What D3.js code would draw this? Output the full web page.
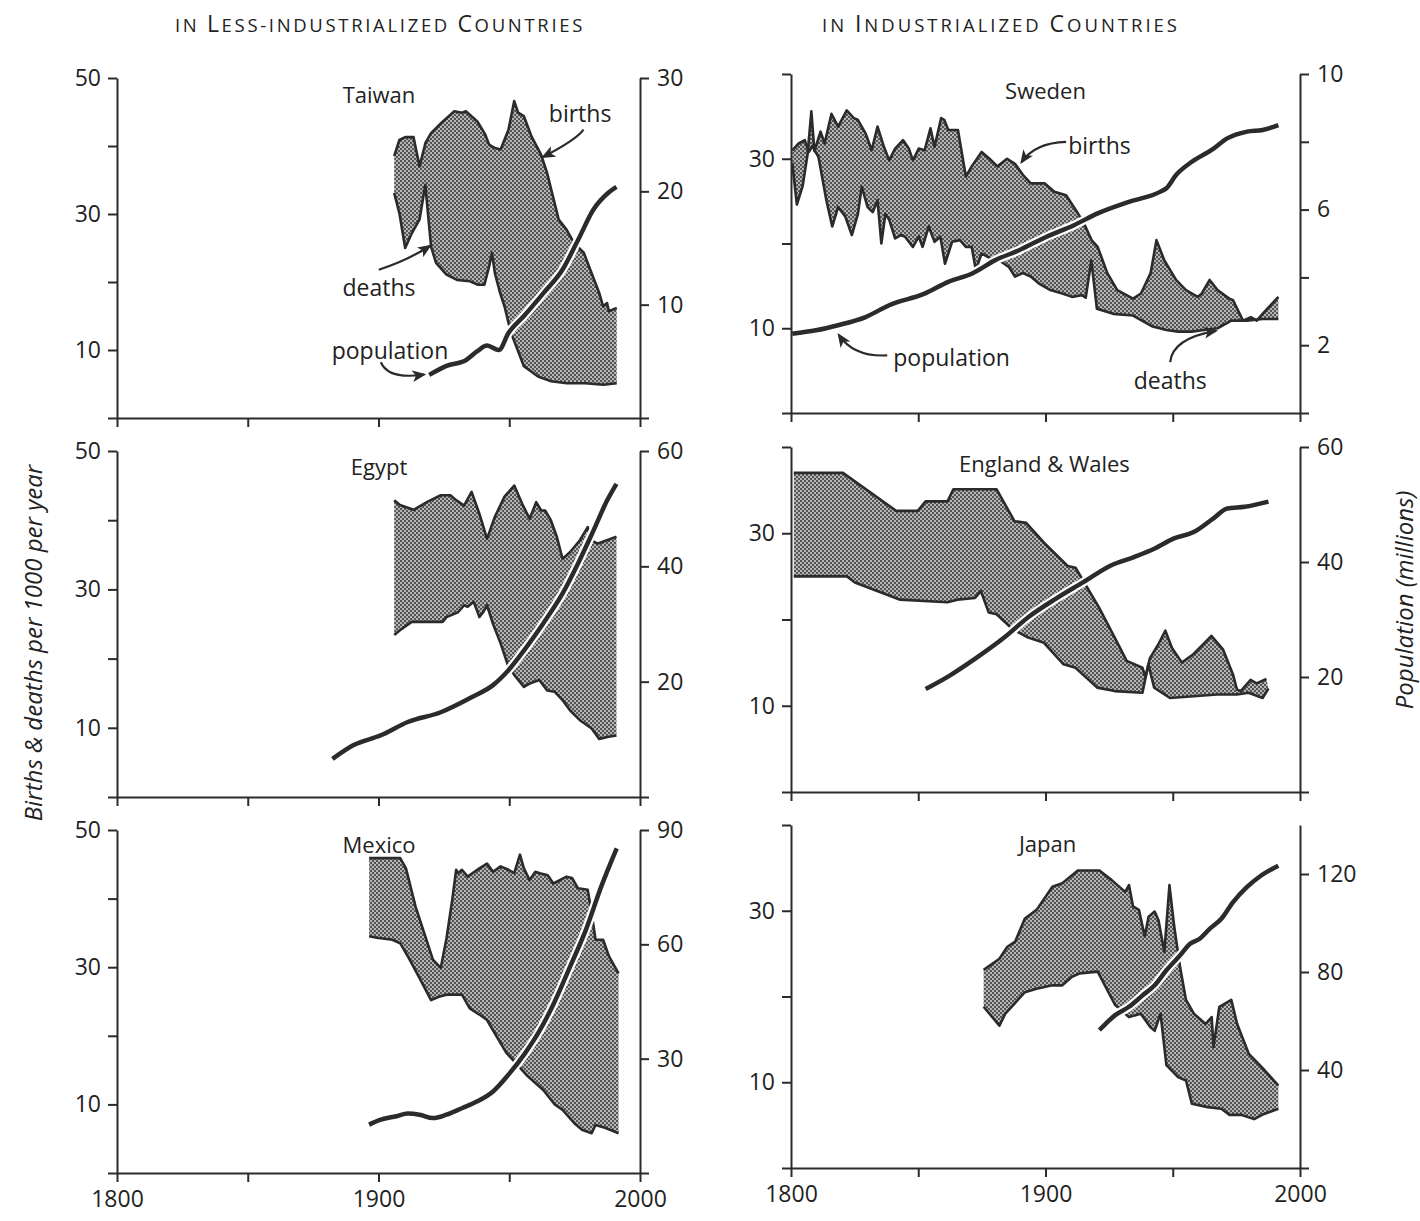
<!DOCTYPE html>
<html>
<head>
<meta charset="utf-8">
<script src="https://cdn.jsdelivr.net/npm/d3@7"></script>
<style>
  body { margin: 0; background: #fff; }
  svg text { font-family: "Open Sans", sans-serif; fill: #222; }
</style>
</head>
<body>
<div id="chart"></div>
<script>
// births & deaths per 1000 per year, population in millions
const taiwanBirths = [[1906,38.5],[1908,40.9],[1910.2,41.3],[1913.4,41.3],[1915.7,37.0],[1918,40.5],[1920.1,41.9],[1924,43.4],[1929,45.1],[1931.9,44.9],[1933.4,45.1],[1937.8,43.6],[1940.8,41.7],[1942.3,40.2],[1944.5,39.7],[1946.7,39.5],[1949.7,42.4],[1951.9,46.6],[1953.4,44.9],[1955.6,44.4],[1958.5,41.4],[1962.2,38.7],[1964.5,36.0],[1966.7,32.6],[1968.9,29.2],[1971.9,27.7],[1974.8,25.7],[1978.5,24.3],[1981.5,21.3],[1984.4,18.4],[1985.9,16.4],[1987.4,16.9],[1988.1,15.7],[1991.1,16.2]]
const taiwanDeaths = [[1906,33.1],[1908,30.1],[1910.2,25.0],[1912.5,27.0],[1915.7,29.2],[1917.9,34.3],[1920.1,25.2],[1922,22.8],[1926,21.1],[1930,20.3],[1935,20.1],[1938,19.6],[1940.5,19.6],[1942.3,22.3],[1943.4,24.3],[1944.5,21.3],[1946.5,18.4],[1948.2,16.4],[1949.7,14.0],[1951.2,12.0],[1955.6,7.6],[1961,6.1],[1966,5.4],[1972,5.1],[1979,5.1],[1986,4.9],[1991.1,5.1]]
const taiwanPop = [[1919.4,3.8],[1926,4.6],[1933.4,5.1],[1937.8,5.9],[1941.5,6.4],[1946,6.0],[1949.7,7.5],[1955.6,9.0],[1963,11.0],[1970.4,13.1],[1976.3,15.7],[1982.2,18.4],[1988,19.9],[1991,20.4]]

const egyptBirths = [[1906,42.9],[1908.2,42.2],[1913.4,41.5],[1918.5,42.6],[1923.8,43.6],[1927.5,43.6],[1929.7,42.9],[1932.7,42.1],[1935.6,44.1],[1938.6,40.9],[1941.5,37.3],[1944.5,40.5],[1948.2,43.4],[1951.9,45.0],[1954.9,42.4],[1957.8,40.2],[1960.3,42.6],[1962.2,41.4],[1963.7,41.4],[1965.9,40.0],[1968.2,37.6],[1970.4,34.4],[1973.3,35.4],[1977,37.1],[1980,39.0],[1981.5,37.1],[1983.7,36.6],[1991,37.6]]
const egyptDeaths = [[1906,23.4],[1908.2,24.1],[1912.7,25.3],[1918.5,25.3],[1924.5,25.3],[1926,26.0],[1930.4,26.7],[1932.7,27.7],[1934.1,27.5],[1936.4,28.2],[1938.6,26.0],[1940,26.7],[1941.5,27.7],[1943.8,25.0],[1946.7,22.2],[1949.7,18.8],[1952.6,17.3],[1955.6,15.9],[1957.8,16.4],[1961.5,16.9],[1964.5,15.4],[1967.4,15.2],[1970.4,14.0],[1973.3,12.5],[1977,11.1],[1981.5,9.9],[1984.4,8.4],[1988,8.7],[1991,8.9]]
const egyptPop = [[1882.4,6.6],[1890.5,9.0],[1900.9,10.7],[1911.2,13.0],[1923.8,14.7],[1935.6,17.3],[1943.8,19.4],[1949.7,22.0],[1955.6,25.4],[1963,30.1],[1970.4,35.3],[1976.3,40.5],[1982.2,46.2],[1987.4,51.4],[1991,54.3]]

const mexicoBirths = [[1896.4,45.9],[1908.3,45.9],[1910.5,44.4],[1914.2,38.8],[1917.9,34.5],[1920.8,31.1],[1923.8,29.9],[1926,34.2],[1928.2,39.8],[1929.7,44.2],[1930.4,43.7],[1931.9,44.2],[1934.1,43.2],[1938.6,44.4],[1941.5,45.1],[1943.8,43.9],[1946.7,44.7],[1949.7,44.2],[1951.9,43.7],[1954.1,46.4],[1955.6,44.4],[1957.8,42.7],[1960,43.9],[1961.7,43.7],[1964.7,43.4],[1966.9,42.2],[1971.9,43.2],[1974,43.0],[1976.3,41.5],[1980,41.3],[1981.5,37.9],[1983,34.0],[1985.9,34.0],[1988.1,31.6],[1991.8,29.1]]
const mexicoDeaths = [[1896.4,34.5],[1899.4,34.3],[1905.3,34.0],[1908.3,33.5],[1911.2,31.6],[1915.7,28.4],[1920.1,25.2],[1923.1,25.7],[1926,26.0],[1931.9,26.0],[1934.9,24.0],[1938.6,23.1],[1941.5,22.3],[1945.2,19.9],[1948.9,17.5],[1952.6,16.0],[1957.1,14.1],[1963,12.1],[1967.4,10.0],[1970.4,9.2],[1974.8,7.3],[1977.8,6.3],[1981.5,5.8],[1983,7.0],[1986.6,6.6],[1991.8,5.8]]
const mexicoPop = [[1896.4,12.7],[1900.9,14.0],[1906.8,14.9],[1911.2,15.6],[1915.7,15.3],[1920.8,14.4],[1926,15.3],[1931.9,17.0],[1937.8,18.8],[1943.8,21.4],[1949.7,25.8],[1955.6,31.0],[1961.5,37.2],[1967.4,45.0],[1973.3,54.2],[1979.3,63.8],[1985.2,75.2],[1991.1,85.2]]

const swedenBirths = [[1800.5,29.5],[1802.3,24.6],[1804.6,26.8],[1806.5,30.5],[1808,35.6],[1809.2,30.9],[1811.6,33.2],[1813.2,31.8],[1815.9,35.3],[1818.5,33.8],[1821.9,35.7],[1824.7,34.8],[1826.2,34.6],[1829.3,33.0],[1831.7,31.0],[1834,33.8],[1836.3,31.6],[1838.6,29.8],[1840.9,31.2],[1844,32.2],[1846.3,31.2],[1847.9,29.8],[1850.2,31.2],[1852.5,31.0],[1854.8,33.6],[1856.4,31.4],[1859,34.8],[1860.2,34.6],[1861.8,33.4],[1865.6,33.4],[1868.7,27.9],[1871,29.1],[1874.9,30.8],[1878,30.0],[1881.1,29.1],[1884.9,30.0],[1888,29.4],[1891.1,28.1],[1894.2,27.1],[1899.6,27.1],[1903.5,26.1],[1908.1,25.7],[1912,23.9],[1915.1,22.4],[1918.1,20.4],[1920.5,19.6],[1924.3,16.5],[1928.2,14.5],[1934.4,13.5],[1937.5,14.1],[1941.3,16.5],[1943.6,20.4],[1946.7,18.0],[1951.3,15.7],[1955.2,14.5],[1959.8,13.7],[1961.4,14.1],[1964.5,15.7],[1967.6,14.5],[1972.2,13.5],[1973.7,13.3],[1977.6,10.9],[1980.7,11.3],[1983,10.9],[1985.3,11.7],[1991.5,13.7]]
const swedenDeaths = [[1800.5,31.0],[1803,31.8],[1805.4,32.2],[1807,30.8],[1808.4,31.5],[1810.8,30.2],[1813.9,25.1],[1816.2,22.0],[1818.5,24.3],[1821.3,23.2],[1823.9,21.0],[1826.3,23.5],[1827.8,26.7],[1830.1,24.3],[1832.1,23.7],[1834,25.1],[1835.5,20.0],[1837.1,23.5],[1838.6,22.8],[1840.9,20.6],[1843.2,21.0],[1844.8,20.8],[1847.9,19.6],[1850.2,20.8],[1851.7,19.6],[1854.1,22.0],[1856.4,20.2],[1858.7,20.8],[1860.5,17.6],[1863.3,20.2],[1866.4,20.4],[1868.7,19.6],[1871,19.6],[1872.6,16.9],[1874.9,18.8],[1878.8,18.2],[1881.9,18.0],[1885.7,17.2],[1888,16.1],[1891.1,16.5],[1894.2,16.1],[1897.3,15.3],[1901.9,14.5],[1906.6,14.1],[1910.4,13.7],[1914.3,13.9],[1915.8,13.6],[1918,18.0],[1920.2,12.3],[1926.6,11.7],[1934.4,11.5],[1942.1,10.2],[1947.5,9.8],[1952.1,9.6],[1957.5,9.6],[1962.2,9.8],[1967.6,10.0],[1973,10.9],[1979.2,10.9],[1985.3,11.1],[1991.5,11.1]]
const swedenPop = [[1800.5,2.34],[1809.8,2.44],[1818.5,2.59],[1829.3,2.83],[1838.6,3.18],[1852.5,3.52],[1861.8,3.87],[1871,4.11],[1880.3,4.51],[1889.6,4.80],[1900.4,5.20],[1911.2,5.54],[1920.5,5.89],[1932.8,6.23],[1945.2,6.53],[1947.5,6.63],[1951.3,7.02],[1957.5,7.41],[1965.3,7.76],[1971.4,8.10],[1979.2,8.30],[1985.3,8.35],[1991.5,8.49]]

const englandBirths = [[1801.1,37.0],[1820.4,37.0],[1841.3,32.6],[1849.8,32.6],[1852.9,33.7],[1861.5,33.7],[1863.8,35.1],[1880.8,35.1],[1887.8,31.4],[1892.4,31.2],[1899.4,28.9],[1908.7,26.2],[1911.8,26.0],[1921,21.4],[1927.2,17.9],[1931.9,15.2],[1938.1,14.4],[1939.3,13.3],[1941,15.5],[1944.3,17.1],[1947.1,18.7],[1949.7,16.7],[1953.6,15.0],[1958.2,16.0],[1965.2,18.1],[1969.8,16.5],[1973.7,13.6],[1975.2,11.9],[1976.7,11.7],[1980.6,13.0],[1982.9,12.6],[1986.8,13.1]]
const englandDeaths = [[1801.1,25.0],[1822,25.0],[1825.1,24.3],[1842.9,22.3],[1861.5,22.0],[1865.4,22.3],[1872.3,22.5],[1874.6,23.3],[1877.7,20.8],[1880.8,20.6],[1887,18.9],[1893.2,17.9],[1899.4,17.3],[1907.1,14.8],[1911.8,14.4],[1920.3,12.1],[1927.2,11.7],[1938.1,11.5],[1940.4,14.8],[1942.7,12.1],[1948.9,10.9],[1958.2,11.1],[1967.4,11.3],[1975.2,11.3],[1979.8,11.5],[1985.3,10.9],[1987.6,12.0]]
const englandPop = [[1852.9,17.9],[1862.2,20.2],[1873.1,23.4],[1883.9,26.9],[1893.2,30.4],[1904,33.6],[1914.9,36.5],[1925.7,39.4],[1935,40.9],[1942.7,42.3],[1950.5,44.1],[1958.2,45.2],[1966,47.6],[1971.4,49.3],[1978.3,49.6],[1987.6,50.5]]

const japanBirths = [[1875.7,23.1],[1881.9,24.4],[1885,25.8],[1888.1,26.4],[1891.9,29.1],[1896.5,30.1],[1902.7,32.8],[1906.6,33.2],[1912.7,34.7],[1921.2,34.7],[1925.9,33.6],[1931.3,32.2],[1932.8,33.0],[1934.4,30.5],[1936.7,30.1],[1939,27.0],[1940.5,29.3],[1942.9,29.9],[1944.4,28.9],[1946.7,25.2],[1948.7,33.0],[1950.6,28.1],[1952.9,23.4],[1955.2,19.6],[1958.3,18.0],[1962.9,16.8],[1965.3,17.6],[1966,14.1],[1968.3,18.8],[1973,19.6],[1975.3,16.8],[1979.9,13.3],[1986.1,11.4],[1991.5,9.6]]
const japanDeaths = [[1875.7,18.8],[1881.9,16.6],[1884.2,18.0],[1891.9,20.5],[1896.5,20.9],[1902.7,21.3],[1906.6,21.3],[1910.4,22.3],[1913.5,22.7],[1920.5,22.9],[1927.4,19.0],[1932.8,17.6],[1937.4,18.0],[1941.3,16.4],[1942.9,16.0],[1945.2,18.0],[1947.5,12.0],[1952.1,10.6],[1955.2,10.2],[1957.5,7.5],[1963.7,7.1],[1969.1,6.9],[1972.2,6.2],[1976.8,6.2],[1982,5.7],[1985.1,6.2],[1991.5,6.9]]
const japanPop = [[1921.2,56.3],[1927.4,62.4],[1932.8,65.8],[1938.2,70.5],[1942.9,74.6],[1947.5,80.7],[1952.9,86.8],[1956.8,91.5],[1960.6,93.6],[1964.5,97.6],[1969.1,101.7],[1973.7,108.5],[1979.1,114.6],[1984.6,119.3],[1991.5,123.4]]

// ticks and labels
const yearTicks = [1800, 1850, 1900, 1950, 2000]
const yearLabels = [1800, 1900, 2000]
const rateTicksLess = [0, 10, 20, 30, 40, 50]
const rateLabelsLess = [10, 30, 50]
const rateTicksInd = [0, 10, 20, 30, 40]
const rateLabelsInd = [10, 30]
const taiwanPopTicks = [0, 10, 20, 30]
const egyptPopTicks = [0, 20, 40, 60]
const mexicoPopTicks = [0, 30, 60, 90]
const swedenPopTicks = [0, 2, 4, 6, 8, 10]
const swedenPopLabels = [2, 6, 10]
const englandPopTicks = [0, 20, 40, 60]
const japanPopTicks = [0, 40, 80, 120]

const w = 1420
const h = 1221

const columns = [
  {left: 117, right: 640, rateMax: 50, rateTicks: rateTicksLess, rateLabels: rateLabelsLess},
  {left: 791, right: 1300, rateMax: 40, rateTicks: rateTicksInd, rateLabels: rateLabelsInd}
]

const panels = [
  {name: "Taiwan", col: 0, bottom: 418, top: 78, popMax: 30, popTicks: taiwanPopTicks, popLabels: [10, 20, 30],
   births: taiwanBirths, deaths: taiwanDeaths, pop: taiwanPop, label: [1900.2, 47.6],
   notes: [
     {text: "births", at: [1977.1, 44.9], arrow: [[1978.4, 42.4], [1975.6, 40.9], [1963.0, 38.4]]},
     {text: "deaths", at: [1900.2, 19.3], arrow: [[1900.1, 21.8], [1911.2, 23.2], [1919.6, 25.3]]},
     {text: "population", at: [1904.4, 10.0], arrow: [[1900.9, 8.2], [1903.8, 5.6], [1917.4, 6.4]]}
   ]},
  {name: "Egypt", col: 0, bottom: 797, top: 451, popMax: 60, popTicks: egyptPopTicks, popLabels: [20, 40, 60],
   births: egyptBirths, deaths: egyptDeaths, pop: egyptPop, label: [1900.2, 47.8], notes: []},
  {name: "Mexico", col: 0, bottom: 1173, top: 830, popMax: 90, popTicks: mexicoPopTicks, popLabels: [30, 60, 90],
   births: mexicoBirths, deaths: mexicoDeaths, pop: mexicoPop, label: [1900.2, 47.9], notes: [], xLabels: true},
  {name: "Sweden", col: 1, bottom: 413, top: 74, popMax: 10, popTicks: swedenPopTicks, popLabels: swedenPopLabels,
   births: swedenBirths, deaths: swedenDeaths, pop: swedenPop, label: [1900, 38.1],
   notes: [
     {text: "births", at: [1921.2, 31.6], arrow: [[1908.1, 32.0], [1895.8, 31.9], [1890.6, 29.6]]},
     {text: "population", at: [1863.1, 6.6], arrow: [[1837.8, 6.8], [1824.7, 6.6], [1818.8, 9.2]]},
     {text: "deaths", at: [1949.0, 3.9], arrow: [[1949.0, 6.0], [1949.8, 8.8], [1966.9, 9.7]]}
   ]},
  {name: "England & Wales", col: 1, bottom: 792, top: 447, popMax: 60, popTicks: englandPopTicks, popLabels: [20, 40, 60],
   births: englandBirths, deaths: englandDeaths, pop: englandPop, label: [1899.6, 38.2], notes: []},
  {name: "Japan", col: 1, bottom: 1168, top: 825, popMax: 140, popTicks: japanPopTicks, popLabels: [40, 80, 120],
   births: japanBirths, deaths: japanDeaths, pop: japanPop, label: [1900.8, 37.9], notes: [], xLabels: true}
]

const ink = "#2b2b2b"

const svg = d3.select("#chart")
  .append("svg")
  .attr("width", w)
  .attr("height", h)

const defs = svg.append("defs")
const pat = defs.append("pattern")
  .attr("id", "stipple")
  .attr("patternUnits", "userSpaceOnUse")
  .attr("width", 4)
  .attr("height", 4)
pat.append("rect").attr("width", 4).attr("height", 4).attr("fill", "#b6b6b6")
pat.append("circle").attr("cx", 1).attr("cy", 1).attr("r", 1.0).attr("fill", "#333")
pat.append("circle").attr("cx", 3).attr("cy", 3).attr("r", 1.0).attr("fill", "#333")

defs.append("marker")
  .attr("id", "arrow")
  .attr("viewBox", "0 0 12 10")
  .attr("refX", 10)
  .attr("refY", 5)
  .attr("markerWidth", 14)
  .attr("markerHeight", 12)
  .attr("markerUnits", "userSpaceOnUse")
  .attr("orient", "auto")
  .append("path")
  .attr("d", "M0,0 L12,5 L0,10 L3,5 Z")
  .attr("fill", ink)

function styleAxis(g) {
  g.attr("font-family", null).attr("font-size", null)
  g.select(".domain").attr("stroke", ink).attr("stroke-width", 2)
  g.selectAll(".tick line").attr("stroke", ink).attr("stroke-width", 2)
  g.selectAll(".tick text")
    .attr("font-size", 23)
    .attr("fill", "#222")
}

panels.forEach(p => {
  const col = columns[p.col]
  const x = d3.scaleLinear().domain([1800, 2000]).range([col.left, col.right])
  const yRate = d3.scaleLinear().domain([0, col.rateMax]).range([p.bottom, p.top])
  const yPop = d3.scaleLinear().domain([0, p.popMax]).range([p.bottom, p.top])

  const g = svg.append("g").attr("class", "panel")

  // shaded gap between births and deaths
  const ring = p.births.map(d => [x(d[0]), yRate(d[1])])
    .concat(p.deaths.slice().reverse().map(d => [x(d[0]), yRate(d[1])]))
  g.append("path")
    .attr("d", d3.line()(ring) + "Z")
    .attr("fill", "url(#stipple)")
    .attr("stroke", "none")

  const rateLine = d3.line().x(d => x(d[0])).y(d => yRate(d[1]))
  ;[p.births, p.deaths].forEach(s => {
    g.append("path")
      .attr("d", rateLine(s))
      .attr("fill", "none")
      .attr("stroke", ink)
      .attr("stroke-width", 2.6)
      .attr("stroke-linejoin", "round")
  })

  const popLine = d3.line().x(d => x(d[0])).y(d => yPop(d[1])).curve(d3.curveMonotoneX)
  g.append("path")
    .attr("d", popLine(p.pop))
    .attr("fill", "none")
    .attr("stroke", "#fff")
    .attr("stroke-width", 9)
  g.append("path")
    .attr("d", popLine(p.pop))
    .attr("fill", "none")
    .attr("stroke", ink)
    .attr("stroke-width", 4.5)
    .attr("stroke-linejoin", "round")

  // axes
  g.append("g")
    .attr("transform", `translate(${col.left},0)`)
    .call(d3.axisLeft(yRate).tickValues(col.rateTicks).tickSize(9).tickSizeOuter(0).tickPadding(7)
      .tickFormat(d => col.rateLabels.includes(d) ? d : ""))
    .call(styleAxis)
  g.append("g")
    .attr("transform", `translate(${col.right},0)`)
    .call(d3.axisRight(yPop).tickValues(p.popTicks).tickSize(9).tickSizeOuter(0).tickPadding(8)
      .tickFormat(d => p.popLabels.includes(d) ? d : ""))
    .call(styleAxis)
  g.append("g")
    .attr("transform", `translate(0,${p.bottom})`)
    .call(d3.axisBottom(x).tickValues(yearTicks).tickSize(9).tickSizeOuter(0).tickPadding(9)
      .tickFormat(d => p.xLabels && yearLabels.includes(d) ? d : ""))
    .call(styleAxis)

  // country name
  g.append("text")
    .attr("x", x(p.label[0]))
    .attr("y", yRate(p.label[1]))
    .attr("text-anchor", "middle")
    .attr("dominant-baseline", "central")
    .attr("font-size", 22)
    .text(p.name)

  // labels with curved arrows
  p.notes.forEach(n => {
    g.append("text")
      .attr("x", x(n.at[0]))
      .attr("y", yRate(n.at[1]))
      .attr("text-anchor", "middle")
      .attr("dominant-baseline", "central")
      .attr("font-size", 23)
      .text(n.text)
    const pts = n.arrow.map(d => [x(d[0]), yRate(d[1])])
    const path = d3.path()
    path.moveTo(pts[0][0], pts[0][1])
    path.quadraticCurveTo(pts[1][0], pts[1][1], pts[2][0], pts[2][1])
    g.append("path")
      .attr("d", path.toString())
      .attr("fill", "none")
      .attr("stroke", ink)
      .attr("stroke-width", 2.2)
      .attr("marker-end", "url(#arrow)")
  })
})

// column headings in small capitals
function heading(cx, width, parts) {
  const t = svg.append("text")
    .attr("x", cx)
    .attr("y", 32)
    .attr("text-anchor", "middle")
    .attr("fill", "#333")
  parts.forEach(([s, big]) => {
    t.append("tspan").attr("font-size", big ? 23 : 18.5).text(s)
  })
  const len = t.node().getComputedTextLength()
  const chars = parts.map(d => d[0]).join("").length
  t.attr("letter-spacing", Math.max(0, (width - len) / chars))
}
heading(380, 410, [["IN ", false], ["L", true], ["ESS-INDUSTRIALIZED ", false], ["C", true], ["OUNTRIES", false]])
heading(1001, 358, [["IN ", false], ["I", true], ["NDUSTRIALIZED ", false], ["C", true], ["OUNTRIES", false]])

// axis titles
svg.append("text")
  .attr("transform", "translate(32,643) rotate(-90)")
  .attr("text-anchor", "middle")
  .attr("dominant-baseline", "central")
  .attr("font-style", "italic")
  .attr("font-size", 24)
  .text("Births & deaths per 1000 per year")
svg.append("text")
  .attr("transform", "translate(1403,600) rotate(-90)")
  .attr("text-anchor", "middle")
  .attr("dominant-baseline", "central")
  .attr("font-style", "italic")
  .attr("font-size", 24)
  .text("Population (millions)")
</script>
</body>
</html>
